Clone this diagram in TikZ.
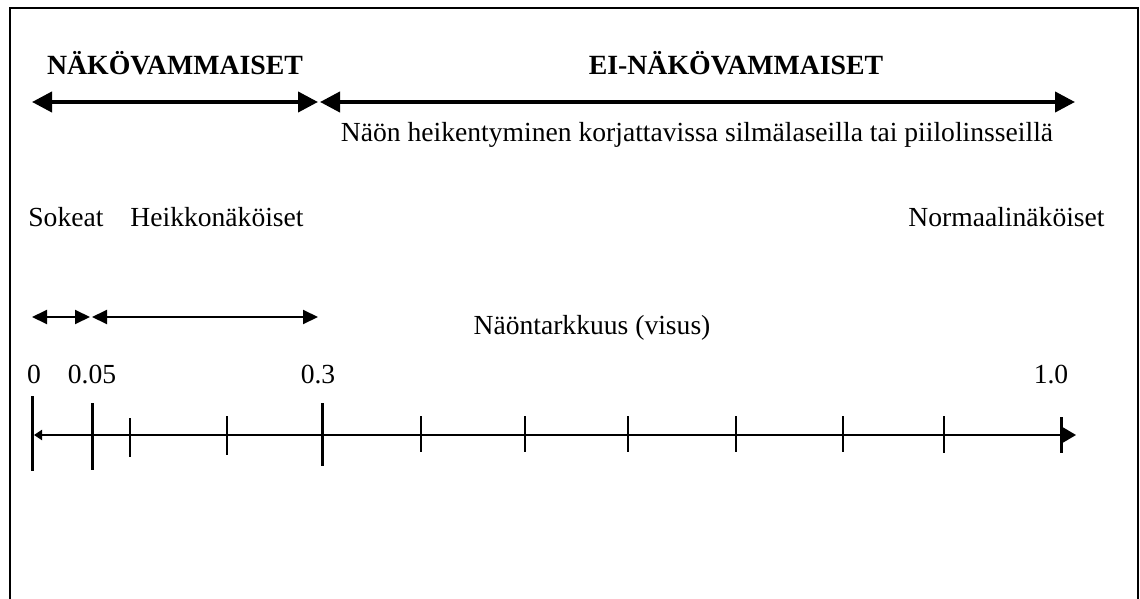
\documentclass[tikz,border=0pt]{standalone}
\usepackage{fontspec}
\setmainfont{Liberation Serif}
\usetikzlibrary{arrows.meta}
\begin{document}
\begin{tikzpicture}[x=0.5pt,y=-0.5pt,
  lbl/.style={inner sep=0pt,anchor=base,font=\fontsize{13.8}{16}\selectfont},
  blbl/.style={lbl,font=\fontsize{13.9}{16}\selectfont\bfseries},
  bigarrow/.style={line width=2pt,{Triangle[length=10pt,width=10pt]}-{Triangle[length=10pt,width=10pt]}},
  smallarrow/.style={line width=1pt,{Triangle[length=7.5pt,width=7pt]}-{Triangle[length=7.5pt,width=7pt]}},
  axis/.style={line width=1pt,{Triangle[length=4pt,width=5pt]}-{Triangle[length=7pt,width=8pt]}},
  major/.style={line width=1.5pt},
  minor/.style={line width=1.1pt},
  frame/.style={line width=1.25pt}]
\useasboundingbox (0,0) rectangle (1140,599);
% frame (bottom cut off)
\draw[frame] (10,610) -- (10,8) -- (1138,8) -- (1138,610);
% titles
\node[blbl] (nv) at (175,75) {NÄKÖVAMMAISET};
\node[blbl] (env) at (736,75) {EI-NÄKÖVAMMAISET};
\coordinate (a1) at (32,102);
\coordinate (a2) at (318,102);
\coordinate (a3) at (320,102);
\coordinate (a4) at (1075,102);
\draw[bigarrow] (a1) -- (a2);
\draw[bigarrow] (a3) -- (a4);
\node[lbl] (kor) at (697,141) {Näön heikentyminen korjattavissa silmälaseilla tai piilolinsseillä};
% groups
\node[lbl,anchor=base west] (sok) at (28,226) {Sokeat};
\node[lbl,anchor=base west] (hei) at (130,226) {Heikkonäköiset};
\node[lbl,anchor=base east] (nor) at (1105,226) {Normaalinäköiset};
\coordinate (s1) at (32,317);
\coordinate (s2) at (90,317);
\coordinate (s3) at (92,317);
\coordinate (s4) at (318,317);
\draw[smallarrow] (s1) -- (s2);
\draw[smallarrow] (s3) -- (s4);
\node[lbl] (vis) at (592,334) {Näöntarkkuus (visus)};
% tick labels
\node[lbl] (l0) at (34,383) {0};
\node[lbl] (l005) at (92,383) {0.05};
\node[lbl] (l03) at (318,383) {0.3};
\node[lbl] (l10) at (1051,383) {1.0};
% axis
\coordinate (x0) at (34,435);
\coordinate (x1) at (1076,435);
\draw[axis] (x0) -- (x1);
% major ticks
\draw[major] (32,396) -- (32,471);
\draw[major] (92,403) -- (92,470);
\draw[major] (322,403) -- (322,466);
\draw[major] (1061,417) -- (1061,453);
% minor ticks
\foreach \x/\a/\b in {130/418/457, 227/416/455, 421/416/452, 525/416/452, 628/416/452, 736/416/452, 843/416/452, 944/416/453}
  \draw[minor] (\x,\a) -- (\x,\b);
\end{tikzpicture}
\end{document}
